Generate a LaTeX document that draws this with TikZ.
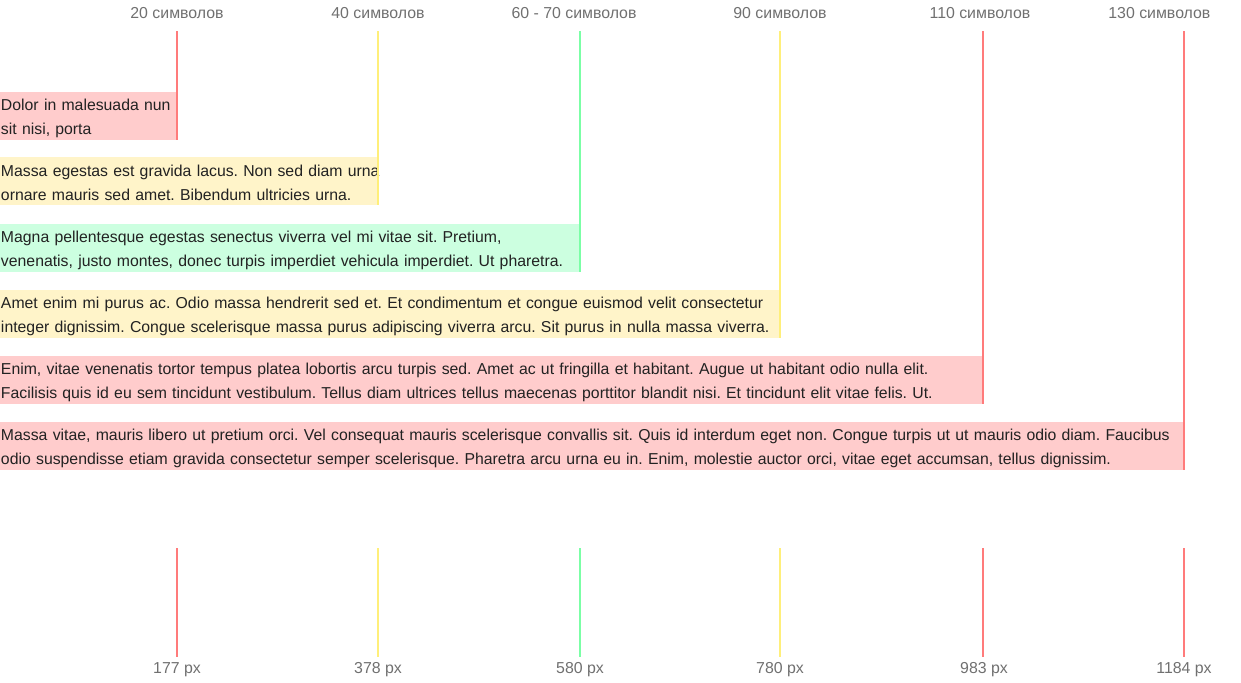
\documentclass[tikz,border=0pt]{standalone}
\usepackage{fontspec}
\setmainfont{Liberation Sans}
\frenchspacing
\definecolor{redline}{HTML}{FF7B7B}
\definecolor{redfill}{HTML}{FFCCCC}
\definecolor{yelline}{HTML}{FFEF7A}
\definecolor{yelfill}{HTML}{FFF4C9}
\definecolor{grnline}{HTML}{7BFFA6}
\definecolor{grnfill}{HTML}{CCFFE0}
\definecolor{labgrey}{HTML}{707070}
\definecolor{txtdark}{HTML}{222222}
\tikzset{
  tbox/.style={anchor=north west, inner xsep=0.75pt, inner ysep=0pt, outer sep=0pt,
    minimum height=36pt, align=left, text=txtdark, font=\fontsize{11.85}{18}\selectfont,
    execute at begin node=\rule{0pt}{12pt}},
  lab/.style={text=labgrey, inner sep=1pt, font=\fontsize{11.9}{13}\selectfont},
  ruler/.style={line width=1.5pt}
}
\begin{document}
\begin{tikzpicture}[x=0.75pt,y=-0.75pt]
  \useasboundingbox (0,0) rectangle (1241,682);
  % top captions
  \node[lab] (t1) at (177,13) {20 символов};
  \node[lab] (t2) at (378,13) {40 символов};
  \node[lab] (t3) at (574,13) {60 - 70 символов};
  \node[lab] (t4) at (780,13) {90 символов};
  \node[lab] (t5) at (980,13) {110 символов};
  \node[lab, anchor=east] (t6) at (1212,13) {130 символов};
  % text boxes
  \node[tbox, fill=redfill, text width=131.25pt] (b1) at (0,92)
    {\mbox{Dolor in malesuada nun}\\\mbox{sit nisi, porta}};
  \node[tbox, fill=yelfill, text width=282pt] (b2) at (0,157)
    {\mbox{Massa egestas est gravida lacus. Non sed diam urna}\\\mbox{ornare mauris sed amet. Bibendum ultricies urna.}};
  \node[tbox, fill=grnfill, text width=433.5pt] (b3) at (0,224)
    {\mbox{Magna pellentesque egestas senectus viverra vel mi vitae sit. Pretium,}\\\mbox{venenatis, justo montes, donec turpis imperdiet vehicula imperdiet. Ut pharetra.}};
  \node[tbox, fill=yelfill, text width=583.5pt] (b4) at (0,290)
    {\mbox{Amet enim mi purus ac. Odio massa hendrerit sed et. Et condimentum et congue euismod velit consectetur}\\\mbox{integer dignissim. Congue scelerisque massa purus adipiscing viverra arcu. Sit purus in nulla massa viverra.}};
  \node[tbox, fill=redfill, text width=735.75pt] (b5) at (0,356)
    {\mbox{Enim, vitae venenatis tortor tempus platea lobortis arcu turpis sed. Amet ac ut fringilla et habitant. Augue ut habitant odio nulla elit.}\\\mbox{Facilisis quis id eu sem tincidunt vestibulum. Tellus diam ultrices tellus maecenas porttitor blandit nisi. Et tincidunt elit vitae felis. Ut.}};
  \node[tbox, fill=redfill, text width=886.5pt] (b6) at (0,422)
    {\mbox{Massa vitae, mauris libero ut pretium orci. Vel consequat mauris scelerisque convallis sit. Quis id interdum eget non. Congue turpis ut ut mauris odio diam. Faucibus}\\\mbox{odio suspendisse etiam gravida consectetur semper scelerisque. Pharetra arcu urna eu in. Enim, molestie auctor orci, vitae eget accumsan, tellus dignissim.}};
  % bottom captions
  \node[lab] (p1) at (177,670) {177 px};
  \node[lab] (p2) at (378,670) {378 px};
  \node[lab] (p3) at (580,670) {580 px};
  \node[lab] (p4) at (780,670) {780 px};
  \node[lab] (p5) at (984,670) {983 px};
  \node[lab] (p6) at (1184,670) {1184 px};
  % upper rulers
  \draw[ruler, redline] (177,31) -- (b1.south east);
  \draw[ruler, yelline] (378,31) -- (b2.south east);
  \draw[ruler, grnline] (580,31) -- (b3.south east);
  \draw[ruler, yelline] (780,31) -- (b4.south east);
  \draw[ruler, redline] (983,31) -- (b5.south east);
  \draw[ruler, redline] (1184,31) -- (b6.south east);
  % lower rulers
  \draw[ruler, redline] (177,548) -- (177,657);
  \draw[ruler, yelline] (378,548) -- (378,657);
  \draw[ruler, grnline] (580,548) -- (580,657);
  \draw[ruler, yelline] (780,548) -- (780,657);
  \draw[ruler, redline] (983,548) -- (983,657);
  \draw[ruler, redline] (1184,548) -- (1184,657);
\end{tikzpicture}
\end{document}
